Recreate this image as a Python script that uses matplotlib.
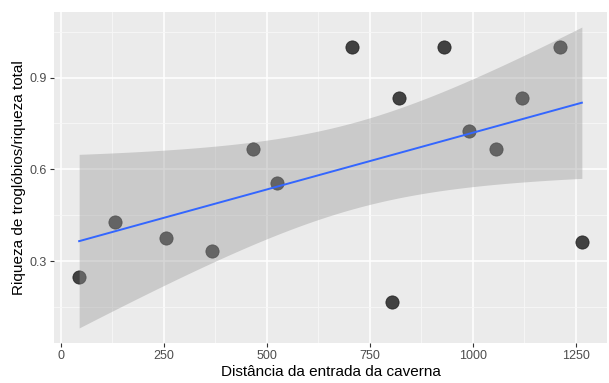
import numpy as np
import matplotlib
matplotlib.use("Agg")
import matplotlib.pyplot as plt
from matplotlib.ticker import MultipleLocator

# data
distance = [45, 131, 255, 368, 466, 526, 707, 805, 822, 930, 992, 1057, 1119, 1213, 1265]
ratio = [0.25, 0.429, 0.375, 0.333, 0.667, 0.556, 1.0, 0.167, 0.833, 1.0, 0.727, 0.667, 0.833, 1.0, 0.364]
x_ticks = [0, 250, 500, 750, 1000, 1250]
y_ticks = [0.3, 0.6, 0.9]
x_label = "Distância da entrada da caverna"
y_label = "Riqueza de troglóbios/riqueza total"

plt.rcParams['font.family'] = ['Liberation Sans', 'DejaVu Sans']

x = np.array(distance, float)
y = np.array(ratio, float)
n = len(x)
b1, b0 = np.polyfit(x, y, 1)
xs = np.linspace(x.min(), x.max(), 80)
ys = b0 + b1 * xs
resid = y - (b0 + b1 * x)
s = np.sqrt(np.sum(resid ** 2) / (n - 2))
t = 2.160  # t(0.975, df=13)
se = s * np.sqrt(1 / n + (xs - x.mean()) ** 2 / np.sum((x - x.mean()) ** 2))
lo, hi = ys - t * se, ys + t * se

fig = plt.figure(figsize=(6.09, 3.83), dpi=100)
ax = fig.add_axes([54 / 609, 1 - 343 / 383, (607 - 54) / 609, (343 - 12) / 383])
ax.set_facecolor('#EBEBEB')
for sp in ax.spines.values():
    sp.set_visible(False)

ax.scatter(x, y, s=90, color='#2E2E2E', alpha=0.9, edgecolors='#222222', linewidths=0.6, zorder=3)
ax.fill_between(xs, lo, hi, color='#999999', alpha=0.4, linewidth=0, zorder=4)
ax.plot(xs, ys, color='#3366FF', lw=1.4, zorder=5)

xr = x.max() - x.min()
ax.set_xlim(x.min() - 0.05 * xr, x.max() + 0.05 * xr)
ymin, ymax = min(y.min(), lo.min()), max(y.max(), hi.max())
yr = ymax - ymin
ax.set_ylim(ymin - 0.05 * yr, ymax + 0.05 * yr)

ax.set_xticks(x_ticks)
ax.set_yticks(y_ticks)
ax.xaxis.set_minor_locator(MultipleLocator(125))
ax.yaxis.set_minor_locator(MultipleLocator(0.15))
ax.set_axisbelow(True)
ax.grid(which='major', color='white', lw=1.1)
ax.grid(which='minor', color='#F7F7F7', lw=0.6)
ax.tick_params(which='major', length=3, width=0.8, color='#333333', labelcolor='#4D4D4D',
               labelsize=9, pad=2)
ax.tick_params(which='minor', length=0)
ax.set_xlabel(x_label, fontsize=11, color='black', labelpad=2)
ax.set_ylabel(y_label, fontsize=11, color='black', labelpad=3)

fig.savefig('out.png', dpi=100)
